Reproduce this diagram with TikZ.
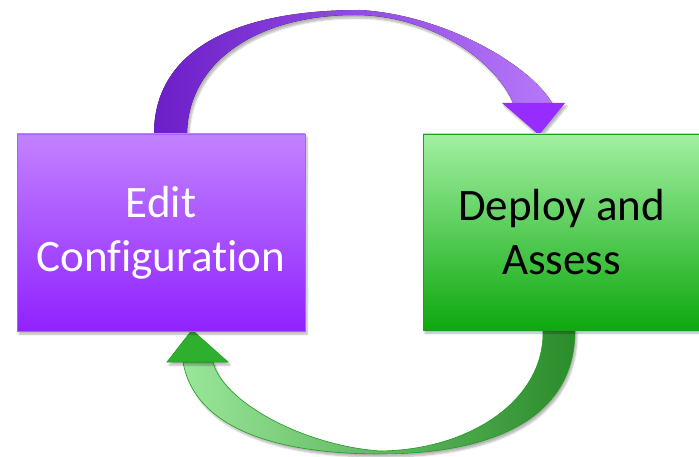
\documentclass[tikz,border=0pt]{standalone}
\usepackage{fontspec}
\setmainfont{Carlito}[Ligatures=NoCommon]
\usetikzlibrary{shadows.blur}
\definecolor{purpTop}{HTML}{C282FF}
\definecolor{purpBot}{HTML}{9022FF}
\definecolor{purpLine}{HTML}{A662FF}
\definecolor{purpDark}{HTML}{6C1EC8}
\definecolor{purpLight}{HTML}{B678FA}
\definecolor{purpHead}{HTML}{962CFF}
\definecolor{grnTop}{HTML}{A2F0A2}
\definecolor{grnBot}{HTML}{0EA80E}
\definecolor{grnLine}{HTML}{1E9E1E}
\definecolor{grnDark}{HTML}{2A8C2A}
\definecolor{grnLight}{HTML}{9AE69A}
\definecolor{grnHead}{HTML}{2EB02E}
\tikzset{
  softshadow/.style={blur shadow={shadow xshift=2pt, shadow yshift=-3pt, shadow blur steps=6, shadow opacity=30}},
  boxstyle/.style={rectangle, inner sep=0pt, align=center, font=\fontsize{45}{54}\selectfont, softshadow},
  purplebox/.style={boxstyle, top color=purpTop, bottom color=purpBot, draw=purpLine, line width=0.8pt, text=white},
  greenbox/.style={boxstyle, top color=grnTop, bottom color=grnBot, draw=grnLine, line width=0.8pt, text=black},
}
\begin{document}
\begin{tikzpicture}[x=1pt,y=-1pt]
\useasboundingbox (0,0) rectangle (699,457);

% purple arrow (Edit -> Deploy)
\fill[left color=purpDark, right color=purpLight, softshadow]
  (154,134) .. controls (154,50) and (235,10) .. (360,10)
  .. controls (445,15) and (530,65) .. (552,103)
  -- (513,103)
  .. controls (495,60) and (430,15) .. (355,15)
  .. controls (260,15) and (188,60) .. (187,134) -- cycle;
\fill[purpHead, softshadow] (502,103) -- (565,103) -- (539,135) -- cycle;

% green arrow (Deploy -> Edit)
\path[left color=grnLight, right color=grnDark, draw=grnLine, line width=0.6pt, softshadow]
  (575,330) .. controls (575,420) and (490,454) .. (380,454)
  .. controls (280,454) and (195,430) .. (183,362)
  -- (213,362)
  .. controls (222,400) and (300,445) .. (380,451)
  .. controls (470,450) and (545,400) .. (543,330) -- cycle;
\path[fill=grnHead, draw=grnLine, line width=0.6pt, softshadow] (167,362) -- (192,330) -- (228,362) -- cycle;

% boxes
\node[purplebox, minimum width=288pt, minimum height=197pt] (edit) at (161,232.5) {Edit\\Configuration};
\node[greenbox, minimum width=277pt, minimum height=196pt] (deploy) at (561.5,232) {Deploy and\\Assess};
\end{tikzpicture}
\end{document}
